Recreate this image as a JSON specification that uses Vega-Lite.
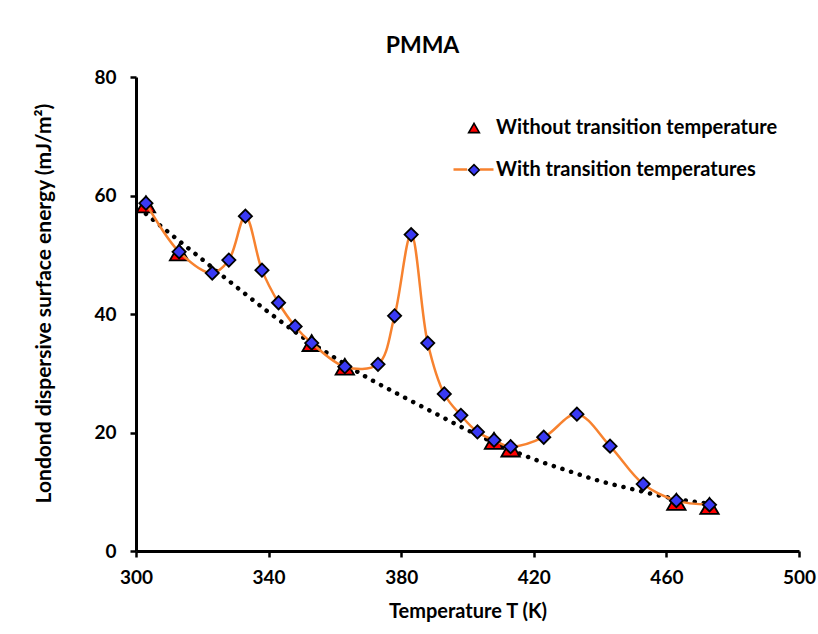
{
  "$schema": "https://vega.github.io/schema/vega-lite/v6.json",
  "width": 663,
  "height": 474,
  "autosize": {"type": "none"},
  "padding": {"left": 136, "top": 77, "right": 19, "bottom": 83},
  "background": "white",
  "config": {
    "font": "Lato",
    "view": {"stroke": null},
    "axis": {
      "domainColor": "black",
      "domainWidth": 3,
      "tickColor": "black",
      "tickWidth": 2.5,
      "tickSize": 6,
      "grid": false,
      "labelFlush": false,
      "labelFont": "Lato",
      "labelFontSize": 19,
      "labelFontWeight": "bold",
      "labelColor": "black",
      "titleFont": "Lato",
      "titleFontWeight": "bold",
      "titleColor": "black",
      "titleFontSize": 20
    }
  },
  "title": {
    "text": "PMMA",
    "fontSize": 23,
    "fontWeight": "bold",
    "font": "Lato",
    "color": "black",
    "anchor": "middle",
    "dx": -45,
    "offset": 10
  },
  "datasets": {
    "withT": [
      {"T": 303, "E": 58.7, "series": "With transition temperatures"},
      {"T": 313, "E": 50.5, "series": "With transition temperatures"},
      {"T": 323, "E": 46.9, "series": "With transition temperatures"},
      {"T": 328, "E": 49.1, "series": "With transition temperatures"},
      {"T": 333, "E": 56.5, "series": "With transition temperatures"},
      {"T": 338, "E": 47.4, "series": "With transition temperatures"},
      {"T": 343, "E": 41.9, "series": "With transition temperatures"},
      {"T": 348, "E": 37.9, "series": "With transition temperatures"},
      {"T": 353, "E": 35.1, "series": "With transition temperatures"},
      {"T": 363, "E": 31.1, "series": "With transition temperatures"},
      {"T": 373, "E": 31.5, "series": "With transition temperatures"},
      {"T": 378, "E": 39.7, "series": "With transition temperatures"},
      {"T": 383, "E": 53.4, "series": "With transition temperatures"},
      {"T": 388, "E": 35.1, "series": "With transition temperatures"},
      {"T": 393, "E": 26.5, "series": "With transition temperatures"},
      {"T": 398, "E": 22.9, "series": "With transition temperatures"},
      {"T": 403, "E": 20.1, "series": "With transition temperatures"},
      {"T": 408, "E": 18.7, "series": "With transition temperatures"},
      {"T": 413, "E": 17.6, "series": "With transition temperatures"},
      {"T": 423, "E": 19.2, "series": "With transition temperatures"},
      {"T": 433, "E": 23.1, "series": "With transition temperatures"},
      {"T": 443, "E": 17.7, "series": "With transition temperatures"},
      {"T": 453, "E": 11.3, "series": "With transition temperatures"},
      {"T": 463, "E": 8.5, "series": "With transition temperatures"},
      {"T": 473, "E": 7.8, "series": "With transition temperatures"}
    ],
    "withoutT": [
      {"T": 303, "E": 58.5, "series": "Without transition temperature"},
      {"T": 313, "E": 50.4, "series": "Without transition temperature"},
      {"T": 353, "E": 35.1, "series": "Without transition temperature"},
      {"T": 363, "E": 31.1, "series": "Without transition temperature"},
      {"T": 408, "E": 18.6, "series": "Without transition temperature"},
      {"T": 413, "E": 17.3, "series": "Without transition temperature"},
      {"T": 463, "E": 8.3, "series": "Without transition temperature"},
      {"T": 473, "E": 7.6, "series": "Without transition temperature"}
    ],
    "trend": [
      {"T": 303, "E": 56.9},
      {"T": 310, "E": 53.7},
      {"T": 320, "E": 49.2},
      {"T": 330, "E": 44.7},
      {"T": 340, "E": 40.3},
      {"T": 350, "E": 36.2},
      {"T": 360, "E": 32.6},
      {"T": 370, "E": 29.2},
      {"T": 380, "E": 26.2},
      {"T": 390, "E": 23.3},
      {"T": 400, "E": 20.4},
      {"T": 410, "E": 17.8},
      {"T": 420, "E": 15.5},
      {"T": 430, "E": 13.6},
      {"T": 440, "E": 11.8},
      {"T": 450, "E": 10.4},
      {"T": 460, "E": 9.1},
      {"T": 470, "E": 8.2},
      {"T": 473, "E": 8.0}
    ]
  },
  "encoding": {
    "x": {
      "field": "T",
      "type": "quantitative",
      "scale": {"domain": [300, 500], "nice": false, "zero": false},
      "axis": {
        "values": [300, 340, 380, 420, 460, 500],
        "title": "Temperature T (K)",
        "labelPadding": 11,
        "titlePadding": 14
      }
    },
    "y": {
      "field": "E",
      "type": "quantitative",
      "scale": {"domain": [0, 80], "nice": false},
      "axis": {
        "values": [0, 20, 40, 60, 80],
        "title": "Londond dispersive surface energy (mJ/m²)",
        "titleFontSize": 21,
        "labelPadding": 14,
        "titleX": -92,
        "titleY": 226,
        "titleAngle": -90,
        "titleAlign": "center",
        "titleBaseline": "middle"
      }
    }
  },
  "layer": [
    {
      "data": {"name": "withoutT"},
      "mark": {"type": "point", "filled": true, "stroke": "black", "strokeWidth": 1.8, "size": 340, "opacity": 1},
      "encoding": {
        "fill": {
          "field": "series",
          "type": "nominal",
          "scale": {"domain": ["Without transition temperature", "With transition temperatures"], "range": ["#FF0000", "#3A3AF4"]},
          "legend": {
            "orient": "none",
            "legendX": 328,
            "legendY": 41,
            "title": null,
            "padding": 0,
            "symbolSize": 115,
            "symbolStrokeColor": "black",
            "symbolStrokeWidth": 1.6,
            "symbolOpacity": 1,
            "labelFont": "Lato",
            "labelFontSize": 20,
            "labelFontWeight": "bold",
            "labelColor": "black",
            "labelOffset": 12,
            "rowPadding": 22,
            "labelLimit": 400
          }
        },
        "shape": {
          "field": "series",
          "type": "nominal",
          "scale": {"domain": ["Without transition temperature", "With transition temperatures"], "range": ["triangle-up", "diamond"]}
        }
      }
    },
    {
      "data": {"name": "trend"},
      "mark": {"type": "line", "color": "black", "strokeWidth": 4.5, "strokeDash": [0.1, 9], "strokeCap": "round", "interpolate": "monotone"},
      "encoding": {}
    },
    {
      "data": {"name": "withT"},
      "mark": {"type": "line", "strokeWidth": 2.5, "interpolate": "catmull-rom"},
      "encoding": {
        "stroke": {
          "field": "series",
          "type": "nominal",
          "scale": {"domain": ["With transition temperatures"], "range": ["#F7822F"]},
          "legend": {
            "orient": "none",
            "legendX": 316,
            "legendY": 71,
            "title": null,
            "padding": 0,
            "symbolType": "M-1,0H-0.32M0.32,0H1",
            "symbolSize": 1600,
            "symbolStrokeWidth": 2.5,
            "labelExpr": "''",
            "labelFontSize": 20
          }
        }
      }
    },
    {
      "data": {"name": "withT"},
      "mark": {"type": "point", "filled": true, "stroke": "black", "strokeWidth": 1.8, "size": 175, "opacity": 1},
      "encoding": {
        "fill": {"field": "series", "type": "nominal"},
        "shape": {"field": "series", "type": "nominal"}
      }
    }
  ]
}
